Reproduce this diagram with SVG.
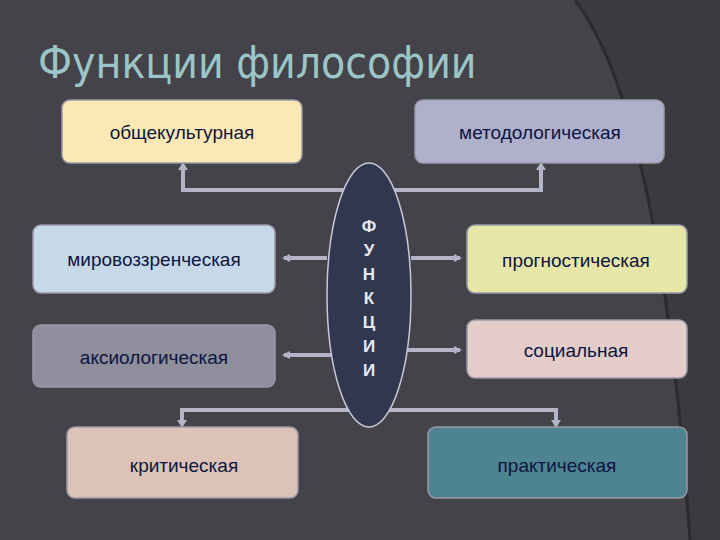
<svg xmlns="http://www.w3.org/2000/svg" width="720" height="540" viewBox="0 0 720 540">
<defs>
<marker id="ah" markerWidth="8" markerHeight="8" refX="6" refY="4" orient="auto" markerUnits="userSpaceOnUse"><path d="M0,0 L8,4 L0,8 Z" fill="#b4b4c8"/></marker>
</defs>
<style>
.box{stroke:#9a9aa8;stroke-width:1.5}
.t{font-family:"Liberation Sans",Arial,sans-serif;font-size:19px;fill:#0d1540;text-anchor:middle;dominant-baseline:central}
.c{fill:none;stroke:#b4b4c8;stroke-width:4}
</style>
<rect width="720" height="540" fill="#434349"/>
<path d="M575,0 Q660,110 690,540 L720,540 L720,0 Z" fill="#3a3a3f"/>
<path d="M575,0 Q660,110 690,540" fill="none" stroke="#2a2a30" stroke-width="3"/>
<text x="38" y="78" font-family="'DejaVu Sans Condensed','Liberation Sans Narrow',sans-serif" font-size="44" fill="#9cc5c8">Функции философии</text>
<g id="connectors">
<path class="c" d="M183,168 V190 H541 V168" />
<path d="M183,162 l-5,8 h10 z M541,162 l-5,8 h10 z" fill="#b4b4c8"/>
<path class="c" d="M182,423 V410 H556 V423"/>
<path d="M182,428 l-5,-8 h10 z M556,428 l-5,-8 h10 z" fill="#b4b4c8"/>
<line class="c" x1="327" y1="258" x2="284" y2="258" marker-end="url(#ah)"/>
<line class="c" x1="331" y1="355" x2="284" y2="355" marker-end="url(#ah)"/>
<line class="c" x1="411" y1="258" x2="460" y2="258" marker-end="url(#ah)"/>
<line class="c" x1="406" y1="350" x2="460" y2="350" marker-end="url(#ah)"/>
</g>
<g id="center"><ellipse cx="369" cy="295" rx="42" ry="132" fill="#323750" stroke="#c8c8d8" stroke-width="1.5"/>
<text class="t" fill="#e8e8f0" style="fill:#e8e8f0;font-weight:bold;font-size:17px"><tspan x="369" y="226">Ф</tspan><tspan x="369" y="250">У</tspan><tspan x="369" y="274">Н</tspan><tspan x="369" y="298">К</tspan><tspan x="369" y="322">Ц</tspan><tspan x="369" y="346">И</tspan><tspan x="369" y="370">И</tspan></text></g>
<g id="n1"><rect class="box" x="62" y="100" width="240" height="63" rx="8" fill="#fbe8b4"/><text class="t" x="182" y="132">общекультурная</text></g>
<g id="n2"><rect class="box" x="415" y="100" width="249" height="63" rx="8" fill="#aeb0cc"/><text class="t" x="540" y="132">методологическая</text></g>
<g id="n3"><rect class="box" x="33" y="225" width="242" height="68" rx="8" fill="#c7d8e8"/><text class="t" x="154" y="259">мировоззренческая</text></g>
<g id="n4"><rect class="box" x="33" y="325" width="242" height="62" rx="8" fill="#8e8e9c"/><text class="t" x="154" y="357">аксиологическая</text></g>
<g id="n5"><rect class="box" x="67" y="427" width="231" height="71" rx="8" fill="#dcc3b6"/><text class="t" x="184" y="465">критическая</text></g>
<g id="n6"><rect class="box" x="467" y="225" width="220" height="68" rx="8" fill="#e6e6a6"/><text class="t" x="576" y="260">прогностическая</text></g>
<g id="n7"><rect class="box" x="467" y="320" width="220" height="58" rx="8" fill="#e4cdc8"/><text class="t" x="576" y="350">социальная</text></g>
<g id="n8"><rect class="box" x="428" y="427" width="259" height="71" rx="8" fill="#4e8391"/><text class="t" x="557" y="465">практическая</text></g>
</svg>
